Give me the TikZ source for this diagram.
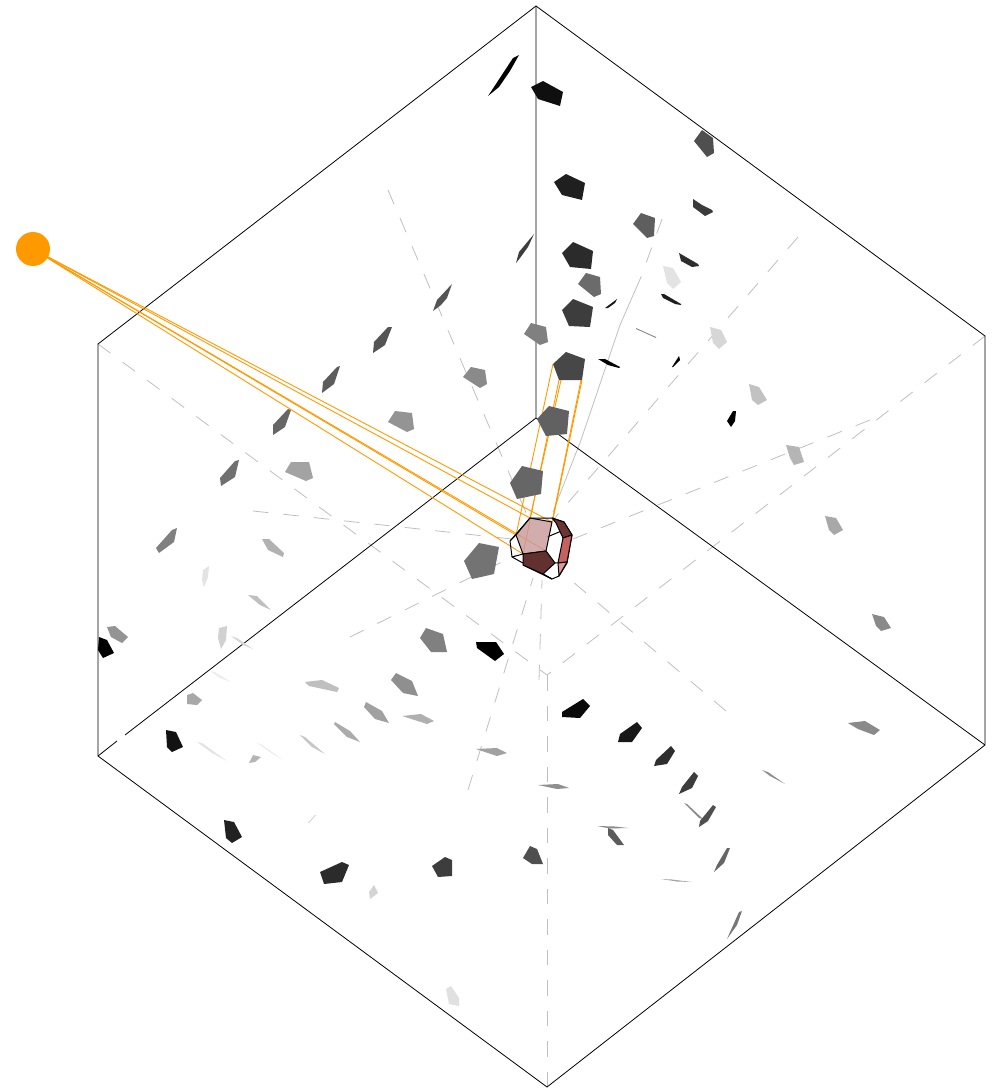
\documentclass[tikz,border=0pt]{standalone}
\usepackage{tikz}
\definecolor{rayorange}{RGB}{255,153,0}
\definecolor{cellpink}{RGB}{200,152,152}
\definecolor{celldark}{RGB}{99,48,48}
\definecolor{celltop}{RGB}{107,53,53}
\definecolor{cellred}{RGB}{200,96,96}
\definecolor{cellrose}{RGB}{222,150,150}

\begin{document}
\begin{tikzpicture}[
    x=1pt, y=-1pt,
    edge/.style={draw=black, line width=0.8pt},
    guide/.style={draw=black!25, line width=0.8pt, dash pattern=on 15.5pt off 15pt},
    ray/.style={draw=rayorange, line width=0.9pt},
    shard/.style={fill=black!#1, draw=none},
    facet/.style={fill=#1, draw=black, line width=1pt, line join=round},
    wire/.style={draw=black, line width=1pt, line join=round},
    srcdot/.style={circle, fill=rayorange, draw=none, minimum size=34pt, inner sep=0pt}
  ]
  \useasboundingbox (0,0) rectangle (997,1089);

  % Box corners
  \coordinate (top) at (536,6);
  \coordinate (lu) at (98,344);
  \coordinate (ll) at (98,756);
  \coordinate (bot) at (547,1087);
  \coordinate (rl) at (985,745);
  \coordinate (ru) at (985,336);
  \coordinate (back) at (536,418);
  \coordinate (front) at (547,675);

  % Guides
  \draw[guide] (lu) -- (front);
  \draw[guide] (ru) -- (front);
  \draw[guide] (bot) -- (front);
  \draw[guide] (388,190) -- (530,522);
  \draw[guide] (798,237) -- (553,520);
  \draw[guide] (253,511) -- (512,539);
  \draw[guide] (870,420) -- (568,541);
  \draw[guide] (350,637) -- (516,555);
  \draw[guide] (468,790) -- (533,578);
  \draw[guide] (539,680) -- (542,580);
  \draw[guide] (726,711) -- (566,576);
  \draw[guide] (662,219) -- (641,277);
  \draw[draw=black!25, line width=0.8pt] (641,277) -- (620,325) -- (581,440) -- (553,512);

  % Box
  \draw[edge] (top) -- (lu) -- (ll) -- (bot) -- (rl) -- (ru) -- cycle;
  \draw[edge] (top) -- (back) -- (rl);
  \draw[edge] (back) -- (125,735);
  \draw[edge] (117,741) -- (ll);

  % Cell corners
  \coordinate (f1) at (530,518);
  \coordinate (f2) at (552,522);
  \coordinate (f3) at (546,551);
  \coordinate (f4) at (523,554);
  \coordinate (f5) at (516,535);

  % Rays
  \node[srcdot] (src) at (33,249) {};
  \foreach \c in {f1,f2,f3,f4,f5}
    \draw[ray] (src.center) -- (\c);
  \draw[ray] (553,364) -- (f5);
  \draw[ray] (559,380) -- (f4);
  \draw[ray] (561,380) -- (f1);
  \draw[ray] (581,380) -- (f2);
  \draw[ray] (582,380) -- (553,519);

  % Top wall
  \path[shard=100] (519,55) -- (513,58) -- (492,90) -- (488,96) -- (499,87) -- (510,71) -- cycle;
  \path[shard=94] (531,87) -- (543,81) -- (563,92) -- (560,106) -- (538,99) -- cycle;
  \path[shard=69] (694,141) -- (702,130) -- (713,138) -- (714,153) -- (707,157) -- cycle;
  \path[shard=88] (554,182) -- (566,174) -- (585,183) -- (582,200) -- (562,195) -- cycle;
  \path[shard=63] (633,224) -- (641,213) -- (655,218) -- (654,236) -- (647,238) -- cycle;
  \path[shard=77] (693,199) -- (702,205) -- (712,210) -- (713,212) -- (705,216) -- (693,207) -- cycle;
  \path[shard=83] (562,253) -- (573,242) -- (593,251) -- (591,269) -- (570,267) -- cycle;
  \path[shard=58] (578,284) -- (586,273) -- (600,277) -- (601,294) -- (594,297) -- cycle;
  \path[shard=76] (562,310) -- (573,299) -- (593,307) -- (590,327) -- (569,326) -- cycle;
  \path[shard=90] (605,308) -- (617,299) -- (615,303) -- (608,308) -- cycle;
  \path[shard=72] (553,364) -- (566,352) -- (585,359) -- (582,380) -- (559,380) -- cycle;
  \path[shard=100] (598,359) -- (605,359) -- (620,367) -- (619,368) -- (608,365) -- cycle;
  \path[shard=82] (679,253) -- (698,264) -- (699,266) -- (692,267) -- (681,261) -- cycle;
  \path[shard=11] (663,266) -- (673,268) -- (681,282) -- (673,289) -- (667,283) -- cycle;
  \path[shard=88] (661,294) -- (664,294) -- (681,304) -- (681,305) -- (675,304) -- (663,298) -- cycle;
  \path[shard=47] (636,328) -- (656,337) -- (656,338) -- (636,329) -- cycle;
  \path[shard=16] (710,327) -- (721,330) -- (727,342) -- (719,349) -- (713,343) -- cycle;
  \path[shard=100] (672,367) -- (679,356) -- (680,360) -- (673,367) -- cycle;
  \path[shard=24] (749,384) -- (759,387) -- (767,400) -- (758,405) -- (752,400) -- cycle;
  \path[shard=100] (727,421) -- (733,411) -- (736,411) -- (735,421) -- (731,427) -- cycle;
  \path[shard=29] (786,445) -- (799,447) -- (804,462) -- (794,465) -- (790,458) -- cycle;
  \path[shard=34] (825,516) -- (836,518) -- (843,530) -- (834,535) -- (829,530) -- cycle;
  \path[shard=46] (872,614) -- (884,617) -- (891,628) -- (881,631) -- (876,626) -- cycle;
  \path[shard=76] (516,263) -- (519,252) -- (534,234) -- (528,247) -- (520,258) -- cycle;
  \path[shard=67] (433,311) -- (437,300) -- (452,284) -- (447,298) -- (441,305) -- cycle;
  \path[shard=67] (373,353) -- (374,342) -- (388,327) -- (392,327) -- (385,345) -- cycle;
  \path[shard=64] (322,393) -- (323,382) -- (337,367) -- (340,366) -- (334,384) -- cycle;
  \path[shard=60] (273,435) -- (273,425) -- (288,409) -- (291,410) -- (285,427) -- cycle;
  \path[shard=56] (221,486) -- (220,478) -- (235,461) -- (239,460) -- (235,477) -- cycle;
  \path[shard=50] (156,548) -- (172,530) -- (177,528) -- (174,542) -- (159,553) -- cycle;
  \path[shard=42] (388,422) -- (395,411) -- (412,413) -- (414,429) -- (407,432) -- cycle;
  \path[shard=36] (285,472) -- (291,462) -- (309,462) -- (313,478) -- (306,481) -- cycle;
  \path[shard=30] (262,539) -- (269,539) -- (284,553) -- (283,557) -- (268,550) -- cycle;
  \path[shard=46] (463,377) -- (471,367) -- (485,370) -- (487,384) -- (480,388) -- cycle;
  \path[shard=50] (524,334) -- (531,323) -- (546,327) -- (548,342) -- (540,345) -- cycle;
  \path[shard=62] (537,419) -- (549,406) -- (569,411) -- (567,434) -- (546,436) -- cycle;
  \path[shard=60] (510,483) -- (522,466) -- (543,471) -- (541,494) -- (517,499) -- cycle;
  \path[shard=55] (464,561) -- (479,543) -- (499,547) -- (494,574) -- (472,579) -- cycle;

  % Left floor
  \path[shard=100] (99,637) -- (107,640) -- (114,653) -- (103,658) -- (98,650) -- cycle;
  \path[shard=42] (107,627) -- (115,626) -- (128,637) -- (122,643) -- (111,637) -- cycle;
  \path[shard=11] (209,566) -- (203,570) -- (202,580) -- (204,587) -- (208,577) -- cycle;
  \path[shard=25] (248,595) -- (257,596) -- (271,610) -- (260,605) -- cycle;
  \path[shard=18] (227,626) -- (219,628) -- (218,638) -- (221,649) -- (226,640) -- cycle;
  \path[shard=16] (231,636) -- (237,638) -- (253,649) -- (243,645) -- cycle;
  \path[shard=7] (210,671) -- (215,672) -- (231,682) -- (220,678) -- cycle;
  \path[shard=34] (187,695) -- (193,693) -- (202,700) -- (197,705) -- (187,704) -- cycle;
  \path[shard=93] (166,730) -- (176,732) -- (183,747) -- (172,752) -- (167,747) -- cycle;
  \path[shard=11] (197,742) -- (202,743) -- (227,761) -- (212,753) -- cycle;
  \path[shard=29] (249,763) -- (253,755) -- (261,757) -- (255,762) -- cycle;
  \path[shard=9] (256,742) -- (262,745) -- (283,760) -- (270,752) -- cycle;
  \path[shard=22] (300,735) -- (305,737) -- (325,754) -- (312,747) -- cycle;
  \path[shard=25] (305,682) -- (322,680) -- (339,688) -- (337,692) -- (309,686) -- cycle;
  \path[shard=20] (308,823) -- (315,815) -- (316,815) -- (309,823) -- cycle;

  % Middle floor
  \path[shard=50] (420,638) -- (426,628) -- (443,634) -- (447,652) -- (431,652) -- cycle;
  \path[shard=100] (476,642) -- (496,642) -- (504,654) -- (495,661) -- (477,648) -- cycle;
  \path[shard=44] (391,680) -- (396,673) -- (412,681) -- (418,696) -- (403,693) -- cycle;
  \path[shard=37] (364,707) -- (366,702) -- (382,711) -- (389,723) -- (375,719) -- cycle;
  \path[shard=31] (402,716) -- (421,714) -- (434,721) -- (427,724) -- cycle;
  \path[shard=33] (334,724) -- (335,722) -- (350,731) -- (360,742) -- (347,737) -- cycle;
  \path[shard=37] (476,749) -- (497,748) -- (507,753) -- (497,756) -- cycle;
  \path[shard=44] (538,785) -- (558,784) -- (569,788) -- (557,789) -- cycle;

  % Right floor
  \path[shard=96] (562,712) -- (583,699) -- (590,706) -- (580,718) -- (562,717) -- cycle;
  \path[shard=91] (620,734) -- (637,722) -- (642,728) -- (632,742) -- (618,742) -- cycle;
  \path[shard=82] (656,760) -- (671,746) -- (675,751) -- (667,764) -- (654,766) -- cycle;
  \path[shard=76] (682,787) -- (694,772) -- (698,776) -- (692,788) -- (679,794) -- cycle;
  \path[shard=47] (684,803) -- (687,804) -- (703,819) -- (699,818) -- cycle;
  \path[shard=69] (700,821) -- (713,805) -- (716,807) -- (708,821) -- (699,827) -- cycle;
  \path[shard=60] (717,865) -- (727,848) -- (730,848) -- (724,863) -- (714,872) -- cycle;
  \path[shard=46] (597,826) -- (615,826.5) -- (628,828) -- (610,828.5) -- cycle;
  \path[shard=64] (608,828) -- (613,830) -- (624,845) -- (617,845) -- (608,835) -- cycle;
  \path[shard=44] (762,770) -- (768,772) -- (785,784) -- (770,776) -- cycle;
  \path[shard=35] (661,879) -- (672,879.5) -- (692,882) -- (677,881.5) -- cycle;
  \path[shard=53] (727,939) -- (739,912) -- (742,911) -- (737,925) -- cycle;
  \path[shard=69] (523,858) -- (530,846) -- (537,849) -- (543,864) -- (532,864) -- cycle;
  \path[shard=46] (848,723) -- (865,721) -- (880,730) -- (874,735) -- (858,729) -- cycle;

  % Near edge
  \path[shard=87] (224,820) -- (234,822) -- (242,837) -- (232,843) -- (226,838) -- cycle;
  \path[shard=83] (320,872) -- (342,862) -- (349,865) -- (342,882) -- (324,884) -- cycle;
  \path[shard=76] (432,866) -- (445,857) -- (452,860) -- (452,876) -- (438,877) -- cycle;
  \path[shard=17] (369,892) -- (374,885) -- (378,893) -- (370,899) -- cycle;
  \path[shard=12] (446,989) -- (451,986) -- (459,998) -- (459,1006) -- (449,1004) -- cycle;

  % Cell
  \draw[wire] (f1) -- (510,541) -- (512,557) -- (552,579) -- (559,576) -- (567,563) -- (572,535) -- (564,522) -- (552,518) -- cycle;
  \draw[wire] (f5) -- (510,541);
  \draw[wire] (f4) -- (512,557);
  \draw[wire] (523,565) -- (552,579);
  \draw[wire] (547,537) -- (564,530);
  \draw[wire] (555,563) -- (567,562);
  \draw[wire] (543,574) -- (552,579);
  \path[fill=cellpink, fill opacity=.8] (f1) -- (f2) -- (f3) -- (f4) -- (f5) -- cycle;
  \draw[wire] (f1) -- (f2) -- (f3) -- (f4) -- (f5) -- cycle;
  \draw[facet=celldark] (f4) -- (f3) -- (555,563) -- (543,574) -- (523,565) -- cycle;
  \draw[facet=celltop] (552,518) -- (564,522) -- (572,535) -- (563,538) -- (556,523) -- cycle;
  \draw[facet=cellred] (563,538) -- (572,535) -- (567,562) -- (558,563) -- cycle;
  \draw[facet=cellrose] (558,563) -- (567,562) -- (559,576) -- cycle;
  \end{tikzpicture}
\end{document}
